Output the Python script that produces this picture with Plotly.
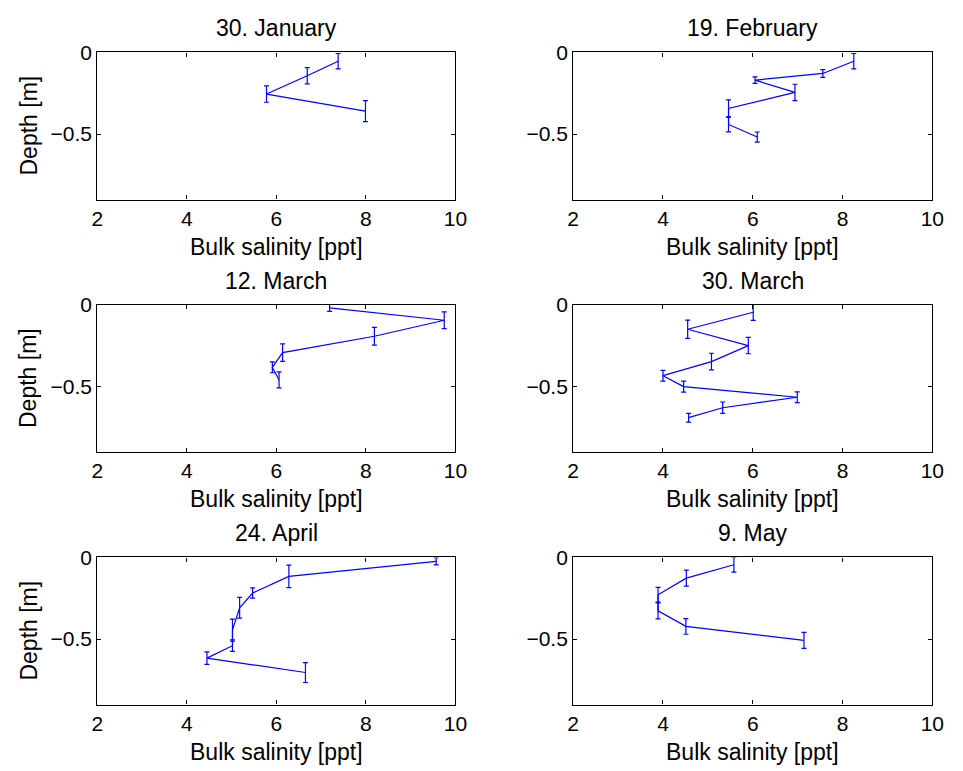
import plotly.graph_objects as go

# Bulk salinity profiles (ppt) vs. depth (m) with depth uncertainty of each core section
titles = ["30. January", "19. February", "12. March", "30. March", "24. April", "9. May"]

jan30_sal = [7.38, 6.69, 5.78, 7.99]
jan30_depth = [-0.054, -0.143, -0.255, -0.359]
jan30_err = [0.047, 0.050, 0.050, 0.064]

feb19_sal = [8.25, 7.56, 6.05, 6.94, 5.46, 5.46, 6.10]
feb19_depth = [-0.054, -0.129, -0.170, -0.245, -0.343, -0.441, -0.518]
feb19_err = [0.047, 0.024, 0.020, 0.050, 0.052, 0.045, 0.031]

mar12_sal = [7.19, 9.75, 8.19, 6.14, 5.91, 6.06]
mar12_depth = [-0.018, -0.094, -0.192, -0.292, -0.382, -0.459]
mar12_err = [0.022, 0.051, 0.054, 0.054, 0.033, 0.049]

mar30_sal = [6.01, 4.55, 5.90, 5.08, 4.00, 4.46, 6.99, 5.33, 4.57]
mar30_depth = [-0.045, -0.149, -0.249, -0.347, -0.433, -0.500, -0.565, -0.629, -0.690]
mar30_err = [0.050, 0.056, 0.050, 0.051, 0.033, 0.034, 0.033, 0.035, 0.027]

apr24_sal = [9.57, 6.28, 5.47, 5.18, 5.02, 5.02, 4.45, 6.65]
apr24_depth = [-0.024, -0.116, -0.218, -0.308, -0.445, -0.540, -0.616, -0.704]
apr24_err = [0.022, 0.069, 0.031, 0.064, 0.068, 0.035, 0.038, 0.061]

may9_sal = [5.58, 4.52, 3.89, 3.89, 4.51, 7.14]
may9_depth = [-0.045, -0.127, -0.229, -0.327, -0.422, -0.508]
may9_err = [0.045, 0.049, 0.045, 0.049, 0.048, 0.049]

profiles = [
    (jan30_sal, jan30_depth, jan30_err),
    (feb19_sal, feb19_depth, feb19_err),
    (mar12_sal, mar12_depth, mar12_err),
    (mar30_sal, mar30_depth, mar30_err),
    (apr24_sal, apr24_depth, apr24_err),
    (may9_sal, may9_depth, may9_err),
]

x_ticks = [2, 4, 6, 8, 10]
y_ticks = [0, -0.5]
y_tick_text = ["0", "\u22120.5"]

W, H = 963, 771
FONT = "Liberation Sans, Arial, Helvetica, sans-serif"
TICK_FS = 21
LABEL_FS = 23
BLUE = "#0000ff"

# pixel boxes of the axes: (left, right) per column, (top, bottom) per row
cols = [(93, 458), (578, 944)]
rows = [(41, 190.5), (297.5, 447), (554, 703.5)]

fig = go.Figure()
annotations = []

for i, (sal, depth, err) in enumerate(profiles):
    r, c = divmod(i, 2)
    n = i + 1
    xa = "x" if n == 1 else f"x{n}"
    ya = "y" if n == 1 else f"y{n}"
    fig.add_trace(go.Scatter(
        x=sal, y=depth, mode="lines",
        line=dict(color=BLUE, width=1.2),
        error_y=dict(type="data", array=err, symmetric=True,
                     color=BLUE, thickness=1.2, width=2.5),
        xaxis=xa, yaxis=ya, showlegend=False, hoverinfo="x+y",
    ))
    x0, x1 = cols[c]
    y0, y1 = rows[r]
    dom_x = [x0 / W, x1 / W]
    dom_y = [1 - y1 / H, 1 - y0 / H]
    axis_common = dict(
        showline=True, linecolor="black", linewidth=1.3, mirror="ticks",
        ticks="inside", ticklen=4, tickcolor="black", tickwidth=1,
        showgrid=False, zeroline=False,
        tickfont=dict(family=FONT, size=TICK_FS, color="black"),
    )
    fig.update_layout(**{
        ("xaxis" if n == 1 else f"xaxis{n}"): dict(
            domain=dom_x, range=[2, 10], tickvals=x_ticks,
            anchor=ya, **axis_common),
        ("yaxis" if n == 1 else f"yaxis{n}"): dict(
            domain=dom_y, range=[-0.9, 0], tickvals=y_ticks,
            ticktext=y_tick_text, anchor=xa, **axis_common),
    })
    xc = (x0 + x1) / 2 / W
    # subplot title
    annotations.append(dict(
        text=titles[i], x=xc, y=1 - y0 / H, xref="paper", yref="paper",
        xanchor="center", yanchor="bottom", yshift=9, showarrow=False,
        font=dict(family=FONT, size=LABEL_FS, color="black")))
    # x axis title
    annotations.append(dict(
        text="Bulk salinity [ppt]", x=xc, y=1 - y1 / H, xref="paper", yref="paper",
        xanchor="center", yanchor="top", yshift=-32, showarrow=False,
        font=dict(family=FONT, size=LABEL_FS, color="black")))
    # y axis title on the left column only
    if c == 0:
        annotations.append(dict(
            text="Depth [m]", x=23 / W, y=1 - (y0 + y1) / 2 / H,
            xref="paper", yref="paper", xanchor="center", yanchor="middle",
            textangle=-90, showarrow=False,
            font=dict(family=FONT, size=LABEL_FS, color="black")))

fig.update_layout(
    width=W, height=H,
    margin=dict(l=0, r=0, t=0, b=0),
    paper_bgcolor="white", plot_bgcolor="white",
    annotations=annotations,
)

fig.write_html("out.html")
